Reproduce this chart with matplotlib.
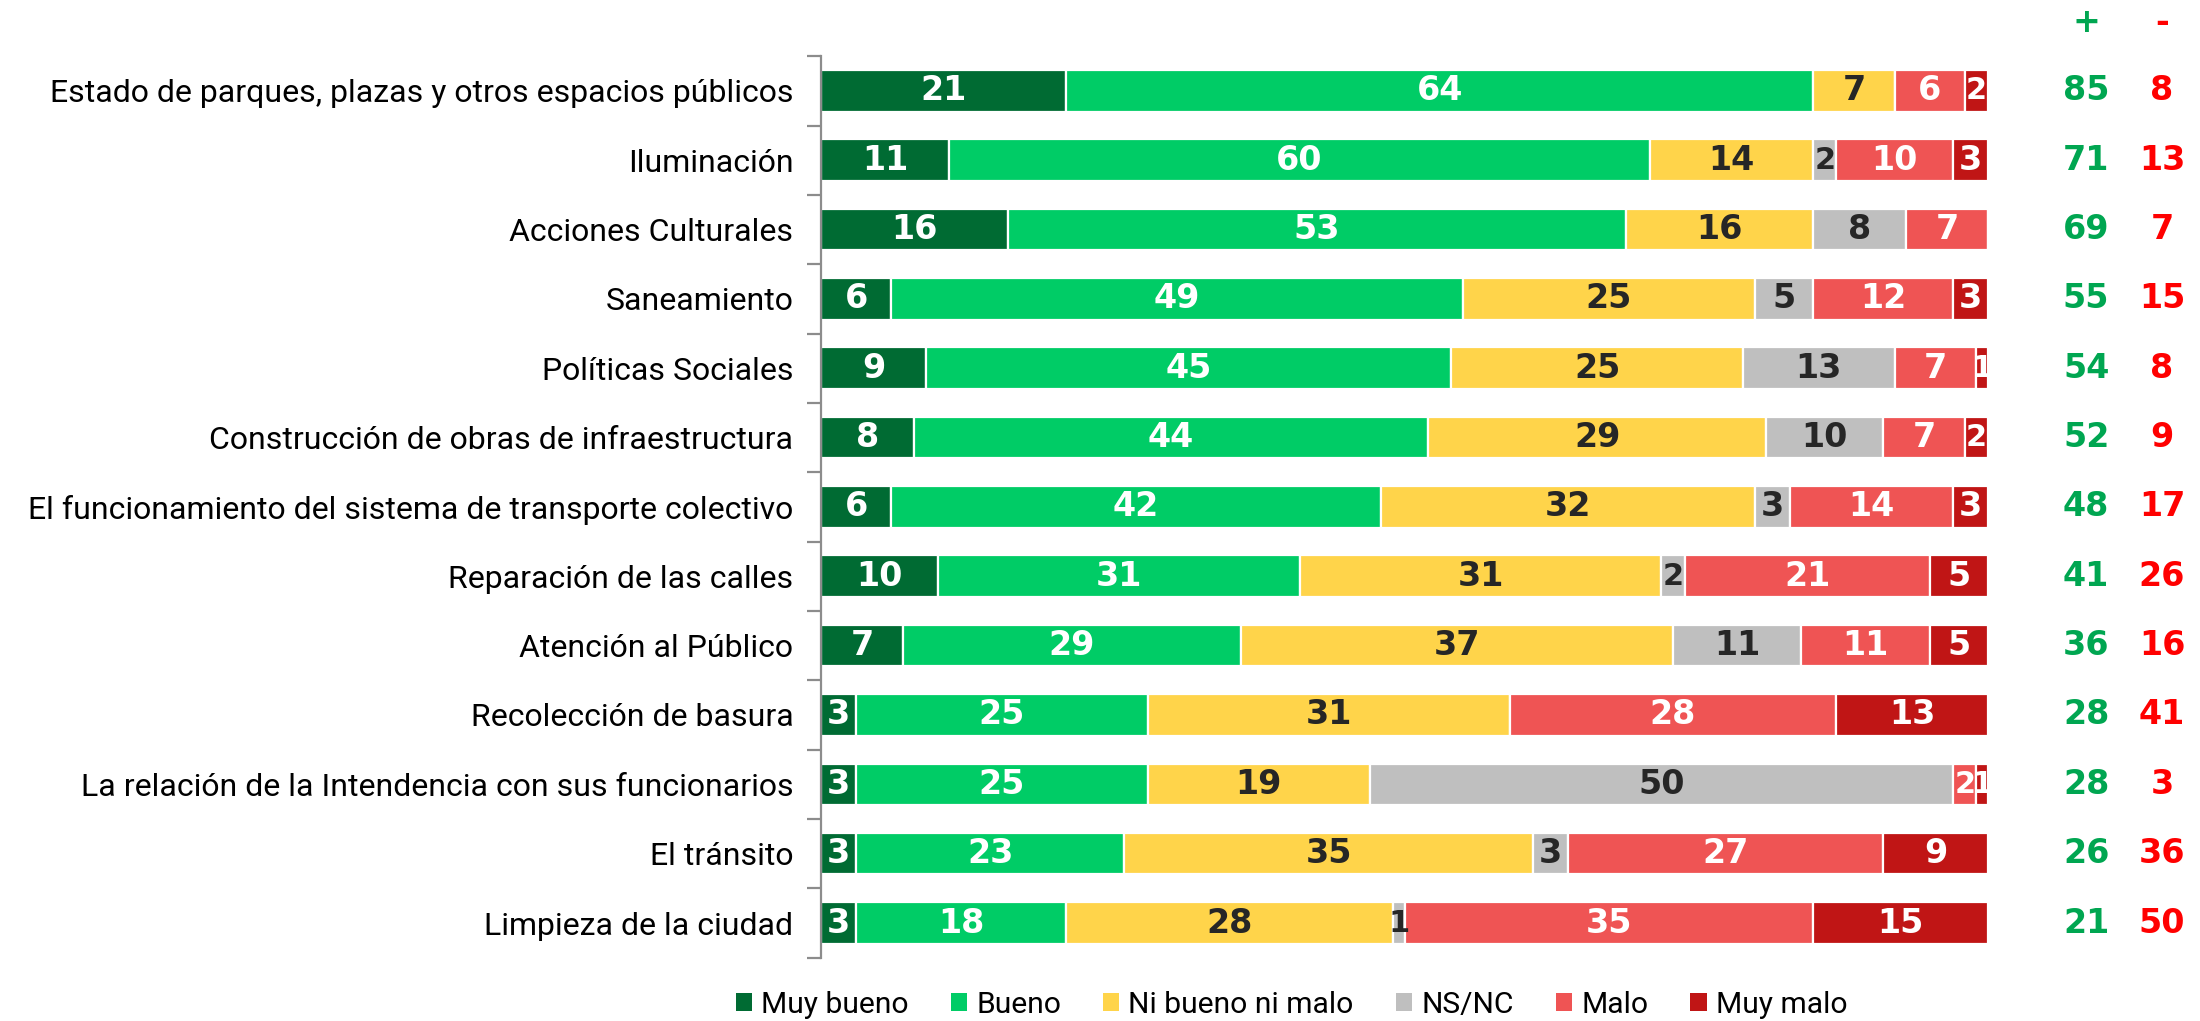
import numpy as np
import matplotlib.pyplot as plt
from matplotlib.patches import Patch

categorias = [
    "Estado de parques, plazas y otros espacios públicos",
    "Iluminación",
    "Acciones Culturales",
    "Saneamiento",
    "Políticas Sociales",
    "Construcción de obras de infraestructura",
    "El funcionamiento del sistema de transporte colectivo",
    "Reparación de las calles",
    "Atención al Público",
    "Recolección de basura",
    "La relación de la Intendencia con sus funcionarios",
    "El tránsito",
    "Limpieza de la ciudad",
]
muy_bueno = [21, 11, 16, 6, 9, 8, 6, 10, 7, 3, 3, 3, 3]
bueno = [64, 60, 53, 49, 45, 44, 42, 31, 29, 25, 25, 23, 18]
ni_bueno_ni_malo = [7, 14, 16, 25, 25, 29, 32, 31, 37, 31, 19, 35, 28]
ns_nc = [0, 2, 8, 5, 13, 10, 3, 2, 11, 0, 50, 3, 1]
malo = [6, 10, 7, 12, 7, 7, 14, 21, 11, 28, 2, 27, 35]
muy_malo = [2, 3, 0, 3, 1, 2, 3, 5, 5, 13, 1, 9, 15]
positivos = [85, 71, 69, 55, 54, 52, 48, 41, 36, 28, 28, 26, 21]
negativos = [8, 13, 7, 15, 8, 9, 17, 26, 16, 41, 3, 36, 50]

series = [
    ("Muy bueno", muy_bueno, "#006B33", "white"),
    ("Bueno", bueno, "#00CC66", "white"),
    ("Ni bueno ni malo", ni_bueno_ni_malo, "#FFD44A", "#262626"),
    ("NS/NC", ns_nc, "#BFBFBF", "#262626"),
    ("Malo", malo, "#EF5454", "white"),
    ("Muy malo", muy_malo, "#C01515", "white"),
]

plt.rcParams['font.family'] = ['Roboto', 'DejaVu Sans']

fig = plt.figure(figsize=(11, 5.105), dpi=200)
ax = fig.add_axes([0.3732, 0.062, 0.5305, 0.883])

y = np.arange(len(categorias))
left = np.zeros(len(categorias))
handles = []
for nombre, vals, color, tcolor in series:
    vals = np.array(vals, dtype=float)
    ax.barh(y, vals, left=left, height=0.6, color=color, edgecolor="white", linewidth=0.8)
    for yi, (l, v) in enumerate(zip(left, vals)):
        if v > 0:
            # los valores muy chicos van un poco mas apretados
            fs = 11 if v <= 2 else 12
            ax.text(l + v / 2, yi, f"{int(v)}", ha="center", va="center",
                    color=tcolor, fontsize=fs, fontweight="bold", family="DejaVu Sans")
    left += vals
    handles.append(Patch(facecolor=color, edgecolor="none", label=nombre))

for yi, (p, n) in enumerate(zip(positivos, negativos)):
    ax.text(108.4, yi, str(p), ha="center", va="center", color="#00A651",
            fontsize=12, fontweight="bold", family="DejaVu Sans", clip_on=False)
    ax.text(114.9, yi, str(n), ha="center", va="center", color="#FF0000",
            fontsize=12, fontweight="bold", family="DejaVu Sans", clip_on=False)
ax.text(108.4, -0.99, "+", ha="center", va="center", color="#00A651",
        fontsize=12, fontweight="bold", family="DejaVu Sans", clip_on=False)
ax.text(114.9, -0.99, "-", ha="center", va="center", color="#FF0000",
        fontsize=12, fontweight="bold", family="DejaVu Sans", clip_on=False)

ax.set_xlim(0, 100)
ax.set_ylim(len(categorias) - 0.5, -0.5)
ax.set_yticks(y)
ax.set_yticklabels(categorias, fontsize=11.5)
ax.set_yticks(np.arange(len(categorias) + 1) - 0.5, minor=True)
ax.tick_params(axis="y", which="major", length=0, pad=10)
ax.tick_params(axis="y", which="minor", length=5, color="#8C8C8C", width=0.8)
ax.set_xticks([])
for s in ["top", "right", "bottom"]:
    ax.spines[s].set_visible(False)
ax.spines["left"].set_color("#8C8C8C")
ax.spines["left"].set_linewidth(0.8)

fig.legend(handles=handles, loc="center", bbox_to_anchor=(0.587, 0.016), ncol=6,
           frameon=False, fontsize=10.8, handlelength=0.55, handleheight=0.55,
           handletextpad=0.3, columnspacing=1.4)

fig.savefig("out.png", dpi=200)
